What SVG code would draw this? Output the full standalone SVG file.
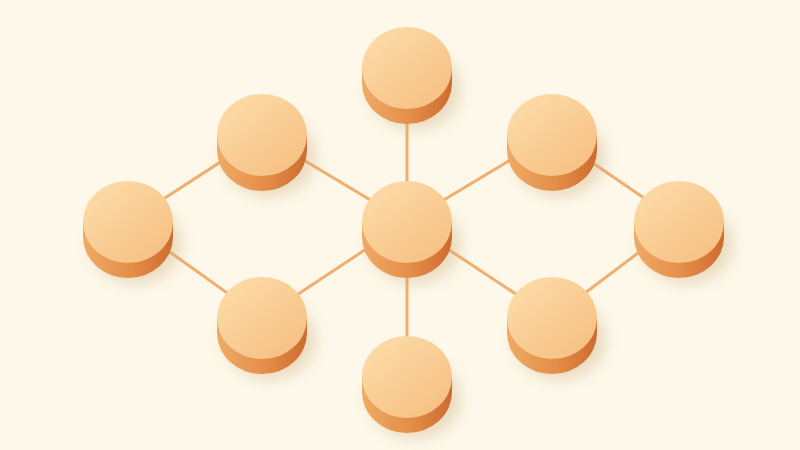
<svg xmlns="http://www.w3.org/2000/svg" xmlns:xlink="http://www.w3.org/1999/xlink" width="800" height="450" viewBox="0 0 800 450">
  <style>
    .edge { stroke: #f1ae6e; stroke-width: 3; stroke-linecap: round; fill: none; }
    .top { fill: url(#topGrad); }
    .side { fill: url(#sideGrad); }
    .shadow { fill: #c9a77a; opacity: 0.35; filter: url(#blur); }
  </style>
  <defs>
    <linearGradient id="topGrad" x1="0.15" y1="0.1" x2="0.9" y2="0.95">
      <stop offset="0" stop-color="#fcdaa6"/>
      <stop offset="1" stop-color="#f6bf82"/>
    </linearGradient>
    <linearGradient id="sideGrad" x1="0" y1="0" x2="1" y2="0">
      <stop offset="0" stop-color="#eeab66"/>
      <stop offset="0.55" stop-color="#e48d47"/>
      <stop offset="1" stop-color="#cc6c30"/>
    </linearGradient>
    <filter id="blur" x="-50%" y="-50%" width="200%" height="200%">
      <feGaussianBlur stdDeviation="7"/>
    </filter>
    <g id="disc">
      <ellipse class="shadow" cx="8" cy="22" rx="46" ry="40"/>
      <path class="side" d="M-45,0 L-45,15 A45,41 0 0 0 45,15 L45,0 Z"/>
      <ellipse class="top" cx="0" cy="0" rx="45" ry="41"/>
    </g>
  </defs>
  <rect width="800" height="450" fill="#fdf8e9"/>
  <g id="connectors">
    <line class="edge" x1="407" y1="68" x2="407" y2="222"/>
    <line class="edge" x1="407" y1="222" x2="407" y2="377"/>
    <line class="edge" x1="262" y1="135" x2="407" y2="222"/>
    <line class="edge" x1="552" y1="135" x2="407" y2="222"/>
    <line class="edge" x1="262" y1="318" x2="407" y2="222"/>
    <line class="edge" x1="552" y1="318" x2="407" y2="222"/>
    <line class="edge" x1="128" y1="222" x2="262" y2="135"/>
    <line class="edge" x1="128" y1="222" x2="262" y2="318"/>
    <line class="edge" x1="679" y1="222" x2="552" y2="135"/>
    <line class="edge" x1="679" y1="222" x2="552" y2="318"/>
  </g>
  <g id="node-top"><use xlink:href="#disc" x="407" y="68"/></g>
  <g id="node-upper-left"><use xlink:href="#disc" x="262" y="135"/></g>
  <g id="node-upper-right"><use xlink:href="#disc" x="552" y="135"/></g>
  <g id="node-left"><use xlink:href="#disc" x="128" y="222"/></g>
  <g id="node-center"><use xlink:href="#disc" x="407" y="222"/></g>
  <g id="node-right"><use xlink:href="#disc" x="679" y="222"/></g>
  <g id="node-lower-left"><use xlink:href="#disc" x="262" y="318"/></g>
  <g id="node-lower-right"><use xlink:href="#disc" x="552" y="318"/></g>
  <g id="node-bottom"><use xlink:href="#disc" x="407" y="377"/></g>
</svg>
